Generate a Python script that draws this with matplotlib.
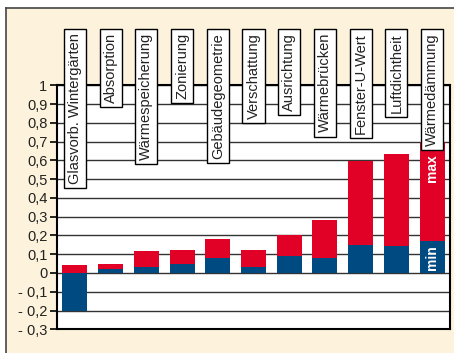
import numpy as np
import matplotlib.pyplot as plt
from matplotlib.patches import Rectangle

# categories and min/max values
categories = ["Glasvorb. Wintergärten", "Absorption", "Wärmespeicherung", "Zonierung",
              "Gebäudegeometrie", "Verschattung", "Ausrichtung", "Wärmebrücken",
              "Fenster-U-Wert", "Luftdichtheit", "Wärmedämmung"]
val_min = [-0.20, 0.02, 0.03, 0.05, 0.08, 0.03, 0.09, 0.08, 0.148, 0.145, 0.17]
val_max = [0.04, 0.05, 0.115, 0.125, 0.18, 0.125, 0.20, 0.28, 0.595, 0.633, 0.70]
yticks = [1, 0.9, 0.8, 0.7, 0.6, 0.5, 0.4, 0.3, 0.2, 0.1, 0, -0.1, -0.2, -0.3]
ytick_labels = ["1", "0,9", "0,8", "0,7", "0,6", "0,5", "0,4", "0,3", "0,2", "0,1", "0",
                "- 0,1", "- 0,2", "- 0,3"]

red = "#E10026"
blue = "#004A82"
cream = "#FDF3DC"

plt.rcParams['font.family'] = ['Liberation Sans', 'DejaVu Sans']

fig = plt.figure(figsize=(4.54, 3.53), dpi=100)
fig.patch.set_facecolor("white")

# cream panel with a thin frame on top and left
fig.patches.append(Rectangle((6 / 454, 0), 1.0, 1 - 8 / 353, transform=fig.transFigure,
                             facecolor=cream, edgecolor="none", zorder=-5))
fig.lines.append(plt.Line2D([6 / 454, 1], [1 - 8 / 353, 1 - 8 / 353], transform=fig.transFigure,
                            color="#444444", lw=1.2, zorder=-4))
fig.lines.append(plt.Line2D([6 / 454, 6 / 454], [0, 1 - 8 / 353], transform=fig.transFigure,
                            color="#444444", lw=1.2, zorder=-4))

ax = fig.add_axes([57 / 454, 1 - 329.3 / 353, 393 / 454, 244 / 353])
ax.set_facecolor("white")

x = np.arange(len(categories))
mins = np.array(val_min)
maxs = np.array(val_max)
red_bottom = np.maximum(mins, 0)

ax.bar(x, mins, width=0.7, color=blue, zorder=3)
ax.bar(x, maxs - red_bottom, bottom=red_bottom, width=0.7, color=red, zorder=3)

ax.set_xlim(-0.5, len(categories) - 0.5)
ax.set_ylim(-0.3, 1.0)
ax.set_yticks(yticks)
ax.set_yticklabels(ytick_labels, fontsize=10.5, color="#222222")
ax.set_xticks([])
ax.tick_params(axis="y", direction="out", length=5, width=1.2, pad=2)
for t in yticks:
    ax.axhline(t, color="#333333", lw=1.0, zorder=1)
for s in ax.spines.values():
    s.set_linewidth(1.5)
    s.set_color("black")

# label boxes above the bars
for i, name in enumerate(categories):
    ax.text(x[i], 1.278, name, rotation=90, ha="center", va="top", fontsize=10.5,
            color="#222222", clip_on=False, zorder=5,
            bbox=dict(boxstyle="square,pad=0.28", facecolor="white", edgecolor="black", lw=1.0))

last = len(categories) - 1
ax.text(x[last], 0.56, "max", rotation=90, ha="center", va="center", color="white",
        fontsize=10, fontweight="bold", zorder=4)
ax.text(x[last], 0.08, "min", rotation=90, ha="center", va="center", color="white",
        fontsize=10, fontweight="bold", zorder=4)

fig.savefig("out.png", dpi=100, facecolor=fig.get_facecolor())
